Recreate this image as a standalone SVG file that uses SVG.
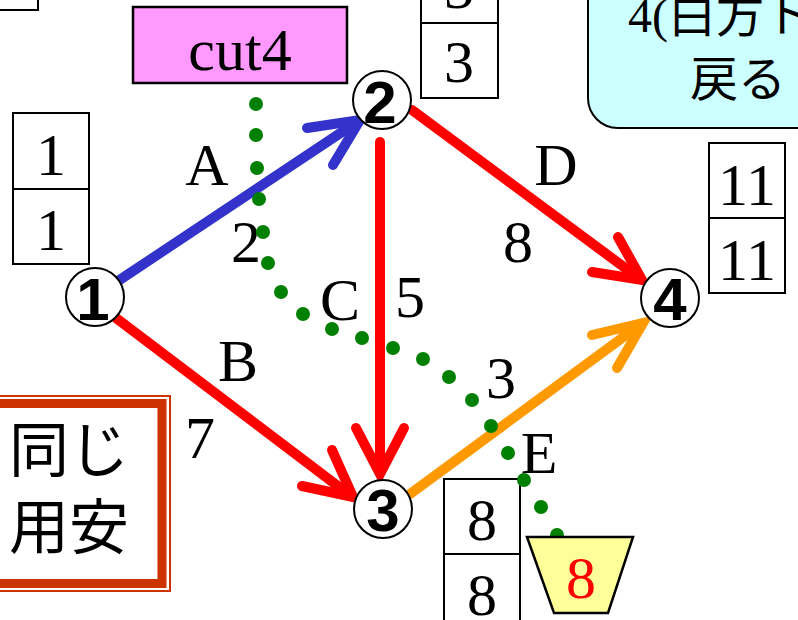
<svg xmlns="http://www.w3.org/2000/svg" width="798" height="620" viewBox="0 0 798 620">
<style>
.box{fill:#fff;stroke:#000;stroke-width:2}
.num{font-family:"Liberation Serif","Times New Roman",serif;font-size:60px;text-anchor:middle;fill:#000}
.lab{font-family:"Liberation Serif","Times New Roman",serif;font-size:60px;text-anchor:middle;fill:#000}
.nc{fill:#fff;stroke:#000;stroke-width:2}
.nd{font-family:"Liberation Sans",Arial,sans-serif;font-size:60px;font-weight:bold;text-anchor:middle;fill:#000}
.jp{font-family:"Liberation Serif","Noto Sans CJK JP",sans-serif;font-size:48px;fill:#000}
.jp2{font-family:"Noto Sans CJK JP",sans-serif;font-size:60px;fill:#000;text-anchor:end}
.ln{fill:none;stroke-width:10;stroke-linecap:round}
.hd{fill:none;stroke-width:10;stroke-linecap:round;stroke-linejoin:miter;stroke-miterlimit:10}
.dot{fill:#008000}
</style>
<rect width="798" height="620" fill="#fff"/>
<!-- top-left partial box -->
<rect class="box" x="-40" y="-65" width="78" height="75"/>
<!-- cyan note -->
<g id="note-top">
<rect x="588" y="-40" width="260" height="168" rx="30" fill="#CCFFFF" stroke="#000" stroke-width="2"/>
<text class="jp" x="628" y="32">4(白方ト</text>
<text class="jp" x="690" y="96">戻る</text>
</g>
<!-- bottom-left note -->
<g id="note-bottom">
<rect x="-30" y="396" width="200" height="195" fill="#fff" stroke="#CC3300" stroke-width="2"/>
<rect x="-30" y="403.5" width="192" height="180" fill="#fff" stroke="#CC3300" stroke-width="9"/>
<text class="jp2" x="129" y="472">同じ</text>
<text class="jp2" x="129" y="549">用安</text>
</g>
<g id="cut4">
<rect x="133" y="7" width="214" height="76" fill="#FF99FF" stroke="#000" stroke-width="2.5"/>
<text class="lab" x="240" y="70">cut4</text>
</g>
<!-- connectors -->
<g id="connectors">
<g stroke="#3333CC">
<line class="ln" x1="118" y1="281" x2="354" y2="124"/>
<polyline class="hd" points="307,128 360,120 333,165"/>
</g>
<g stroke="#FF0000">
<line class="ln" x1="116" y1="318" x2="347" y2="493"/>
<polyline class="hd" points="302,486 353,497 332,450"/>
<line class="ln" x1="380" y1="142" x2="380" y2="467"/>
<polyline class="hd" points="356,428 380,474 404,428"/>
<line class="ln" x1="412" y1="110" x2="636" y2="276"/>
<polyline class="hd" points="592,272 642,280 618,237"/>
</g>
<g stroke="#FF9900">
<line class="ln" x1="410" y1="494" x2="637" y2="327"/>
<polyline class="hd" points="592,335 643,323 617,368"/>
</g>
</g>
<!-- edge labels -->
<g id="labels">
<text class="lab" x="207" y="185">A</text>
<text class="lab" x="246" y="262">2</text>
<text class="lab" x="238" y="381">B</text>
<text class="lab" x="200" y="458">7</text>
<text class="lab" x="340" y="320">C</text>
<text class="lab" x="410" y="317">5</text>
<text class="lab" x="556" y="185">D</text>
<text class="lab" x="518" y="262">8</text>
<text class="lab" x="501" y="398">3</text>
<text class="lab" x="539" y="473">E</text>
</g>
<!-- nodes -->
<g id="node1">
<circle class="nc" cx="95" cy="297" r="29"/>
<text class="nd" x="93" y="320">1</text>
<rect class="box" x="13" y="113" width="76" height="151"/>
<line x1="13" y1="189" x2="89" y2="189" stroke="#000" stroke-width="2"/>
<text class="num" x="51" y="175">1</text>
<text class="num" x="51" y="250">1</text>
</g>
<g id="node2">
<circle class="nc" cx="382" cy="100" r="29"/>
<text class="nd" x="380" y="123">2</text>
<rect class="box" x="421" y="-52" width="77" height="150"/>
<line x1="421" y1="23" x2="498" y2="23" stroke="#000" stroke-width="2"/>
<text class="num" x="459" y="8">3</text>
<text class="num" x="459" y="82">3</text>
</g>
<g id="node3">
<circle class="nc" cx="383" cy="509" r="29"/>
<text class="nd" x="383" y="531">3</text>
<rect class="box" x="444" y="479" width="76" height="150"/>
<line x1="444" y1="554" x2="520" y2="554" stroke="#000" stroke-width="2"/>
<text class="num" x="482" y="540">8</text>
<text class="num" x="482" y="615">8</text>
</g>
<g id="node4">
<circle class="nc" cx="670" cy="298" r="29"/>
<text class="nd" x="670" y="320">4</text>
<rect class="box" x="709" y="143" width="76" height="150"/>
<line x1="709" y1="218" x2="785" y2="218" stroke="#000" stroke-width="2"/>
<text class="num" x="747" y="205">11</text>
<text class="num" x="747" y="280">11</text>
</g>
<!-- cut line -->
<g id="cut-line" class="dot">
<circle cx="256" cy="104" r="7"/>
<circle cx="256" cy="135" r="7"/>
<circle cx="257" cy="168" r="7"/>
<circle cx="259" cy="199" r="7"/>
<circle cx="263" cy="232" r="7"/>
<circle cx="268" cy="263" r="7"/>
<circle cx="281" cy="292" r="7"/>
<circle cx="303" cy="314" r="7"/>
<circle cx="332" cy="329" r="7"/>
<circle cx="362" cy="338" r="7"/>
<circle cx="393" cy="348" r="7"/>
<circle cx="423" cy="359" r="7"/>
<circle cx="449" cy="377" r="7"/>
<circle cx="472" cy="400" r="7"/>
<circle cx="491" cy="426" r="7"/>
<circle cx="508" cy="453" r="7"/>
<circle cx="524" cy="480" r="7"/>
<circle cx="541" cy="507" r="7"/>
<circle cx="557" cy="535" r="7"/>
</g>
<g id="cut-value">
<polygon points="527,537 633,537 608,613 554,613" fill="#FFFF99" stroke="#000" stroke-width="2.5"/>
<text class="num" x="581" y="598" style="fill:#FF0000">8</text>
</g>
</svg>
